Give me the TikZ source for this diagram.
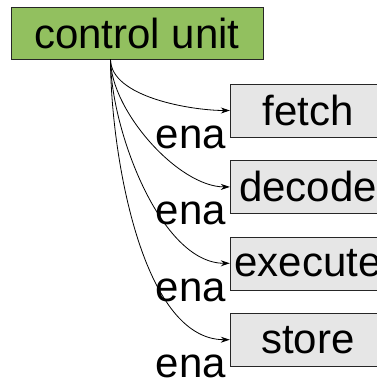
\documentclass[tikz,border=0pt]{standalone}
\usepackage{fontspec}
\setmainfont{Liberation Sans}
\usetikzlibrary{positioning,arrows.meta}

\definecolor{unitgreen}{RGB}{146,192,95}
\definecolor{stagegray}{RGB}{230,230,230}

\begin{document}
\begin{tikzpicture}[x=1pt,y=-1pt,
    every node/.style={font=\fontsize{42}{48}\selectfont},
    unitbox/.style={draw=black!85,fill=unitgreen,minimum width=252pt,minimum height=52pt,inner sep=0pt},
    stagebox/.style={draw=black!85,fill=stagegray,minimum width=156pt,minimum height=53pt,inner sep=0pt},
    enalabel/.style={pos=1,anchor=base east,inner sep=0pt,xshift=-3.5pt,yshift=-38pt},
    enawire/.style={-{Stealth[length=9pt,width=6pt]},line width=0.8pt,looseness=0.75}]
    \useasboundingbox (0,0) rectangle (377,378);

    % controller and pipeline stages
    \node[unitbox] (cu) at (137,33) {control unit};
    \node[stagebox] (fetch) at (308,110.5) {fetch};
    \node[stagebox,below=23pt of fetch] (decode) {decode};
    \node[stagebox,below=23pt of decode] (execute) {execute};
    \node[stagebox,below=23pt of execute] (store) {store};

    \coordinate (cuout) at ([xshift=-26.5pt]cu.south);

    % enable lines
    \draw[enawire] (cuout) to[out=-90,in=180] node[enalabel] (ena1) {ena} (fetch.west);
    \draw[enawire] (cuout) to[out=-90,in=180] node[enalabel] (ena2) {ena} (decode.west);
    \draw[enawire] (cuout) to[out=-90,in=180] node[enalabel] (ena3) {ena} (execute.west);
    \draw[enawire] (cuout) to[out=-90,in=180] node[enalabel] (ena4) {ena} (store.west);
\end{tikzpicture}
\end{document}
